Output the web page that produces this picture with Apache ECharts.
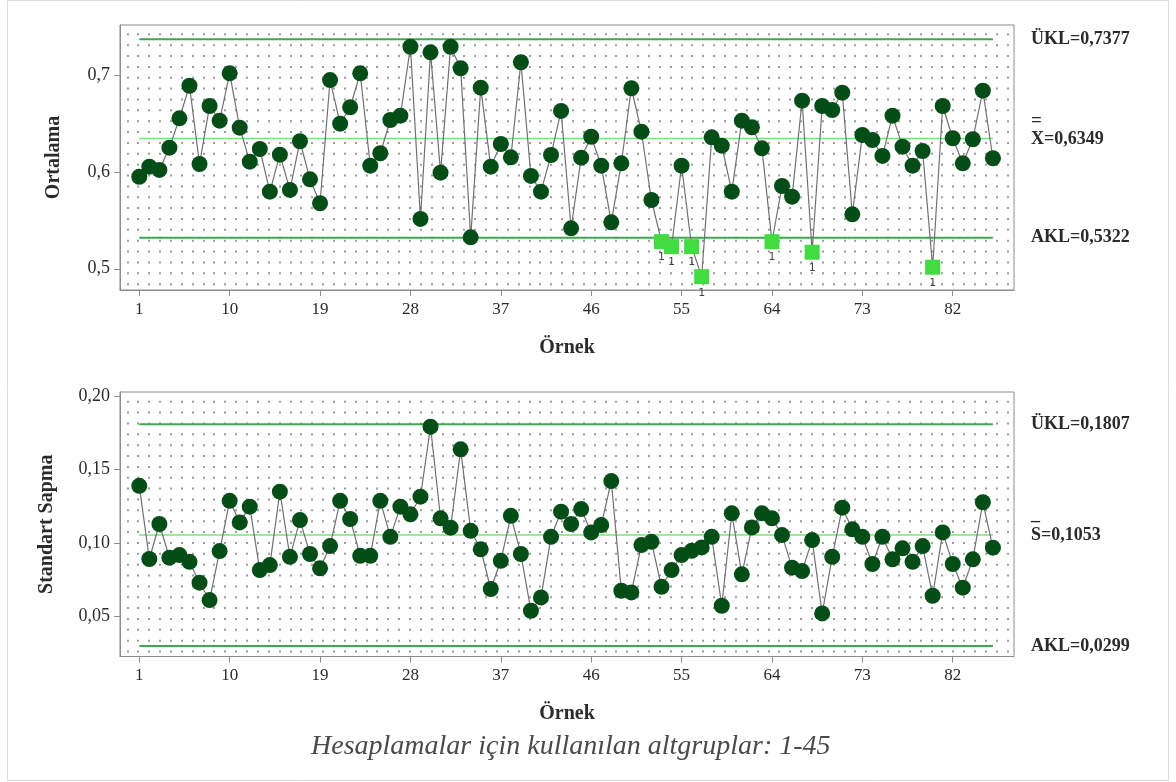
<!DOCTYPE html>
<html>
<head>
<meta charset="utf-8">
<title>Xbar-S kontrol grafiği</title>
<script src="https://cdn.jsdelivr.net/npm/echarts@6/dist/echarts.min.js"></script>
<style>
	html, body { margin: 0; padding: 0; background: #fff; }
	#chart { width: 1176px; height: 782px; }
</style>
</head>
<body>
<div id="chart"></div>
<script>
	// örnek ortalamaları (Xbar) ve standart sapmalar, örnek 1..86
	const xbarMeans = [
		0.5953, 0.6057, 0.6023, 0.6254, 0.6558, 0.6895, 0.6085, 0.6685, 0.6533, 0.7024,
		0.6461, 0.6109, 0.6240, 0.5798, 0.6181, 0.5816, 0.6320, 0.5926, 0.5678, 0.6954,
		0.6502, 0.6672, 0.7024, 0.6067, 0.6196, 0.6540, 0.6585, 0.7299, 0.5516, 0.7241,
		0.5995, 0.7299, 0.7076, 0.5325, 0.6875, 0.6057, 0.6292, 0.6154, 0.7138, 0.5961,
		0.5798, 0.6178, 0.6634, 0.5419, 0.6150, 0.6367, 0.6067, 0.5481, 0.6092, 0.6869,
		0.6419, 0.5712, 0.5281, 0.5229, 0.6067, 0.5229, 0.4918, 0.6361, 0.6274, 0.5798,
		0.6533, 0.6465, 0.6247, 0.5281, 0.5857, 0.5746, 0.6740, 0.5171, 0.6685, 0.6644,
		0.6823, 0.5564, 0.6385, 0.6333, 0.6168, 0.6585, 0.6264, 0.6067, 0.6219, 0.5016,
		0.6685, 0.6351, 0.6092, 0.6341, 0.6844, 0.6144
	]
	const stdDevs = [
		0.1388, 0.0890, 0.1128, 0.0899, 0.0917, 0.0871, 0.0729, 0.0611, 0.0944, 0.1286,
		0.1139, 0.1246, 0.0815, 0.0849, 0.1348, 0.0905, 0.1155, 0.0924, 0.0827, 0.0978,
		0.1286, 0.1162, 0.0912, 0.0912, 0.1286, 0.1041, 0.1246, 0.1194, 0.1314, 0.1790,
		0.1167, 0.1103, 0.1636, 0.1082, 0.0956, 0.0686, 0.0878, 0.1184, 0.0924, 0.0538,
		0.0629, 0.1041, 0.1212, 0.1128, 0.1230, 0.1071, 0.1121, 0.1420, 0.0674, 0.0663,
		0.0985, 0.1007, 0.0701, 0.0815, 0.0917, 0.0946, 0.0969, 0.1041, 0.0572, 0.1201,
		0.0786, 0.1105, 0.1201, 0.1167, 0.1053, 0.0831, 0.0808, 0.1019, 0.0520, 0.0905,
		0.1239, 0.1092, 0.1041, 0.0856, 0.1041, 0.0888, 0.0963, 0.0871, 0.0978, 0.0640,
		0.1071, 0.0856, 0.0695, 0.0888, 0.1276, 0.0967
	]
	// test 1 ile işaretlenen örnekler
	const xbarFlagged = [53, 54, 56, 57, 64, 68, 80]
	const sampleTicks = [1, 10, 19, 28, 37, 46, 55, 64, 73, 82]
	const xbarTicks = [0.5, 0.6, 0.7]
	const sTicks = [0.05, 0.10, 0.15, 0.20]
	const xbarLimits = [0.7377, 0.6349, 0.5322] // ÜKL, merkez, AKL
	const sLimits = [0.1807, 0.1053, 0.0299]

	const serif = 'Liberation Serif'
	const dark = '#2b2b2b'
	const n = xbarMeans.length

	function comma(v, d) {
		return v.toFixed(d).replace('.', ',')
	}

	function sampleAxis(gridIndex, nameGap) {
		return {
			type: 'value', gridIndex: gridIndex, min: -0.92, max: 88.1,
			name: 'Örnek', nameLocation: 'middle', nameGap: nameGap,
			nameTextStyle: { fontFamily: serif, fontWeight: 'bold', fontSize: 20, color: dark },
			axisLine: { show: true, onZero: false, lineStyle: { color: '#8c8c8c' } },
			axisTick: { show: true, inside: false, length: 6, customValues: sampleTicks, lineStyle: { color: '#8c8c8c' } },
			axisLabel: { customValues: sampleTicks, margin: 11, fontFamily: serif, fontSize: 17, color: dark },
			splitLine: { show: false }
		}
	}

	function valueAxis(gridIndex, name, nameGap, min, max, ticks, digits) {
		return {
			type: 'value', gridIndex: gridIndex, min: min, max: max,
			name: name, nameLocation: 'middle', nameGap: nameGap,
			nameTextStyle: { fontFamily: serif, fontWeight: 'bold', fontSize: 20, color: dark },
			axisLine: { show: true, onZero: false, lineStyle: { color: '#8c8c8c' } },
			axisTick: { show: true, inside: false, length: 6, customValues: ticks, lineStyle: { color: '#8c8c8c' } },
			axisLabel: { customValues: ticks, margin: 10, fontFamily: serif, fontSize: 18, color: dark,
				formatter: function (v) { return comma(v, digits) } },
			splitLine: { show: false }
		}
	}

	// noktalı arka plan ızgarası (ilk çizgi gizli, sütunlar 127.3 px'den başlar)
	function dotXAxis(gridIndex) {
		return {
			type: 'value', gridIndex: gridIndex, min: 0, max: 82, interval: 1,
			axisLine: { show: false, onZero: false }, axisTick: { show: false }, axisLabel: { show: false },
			splitLine: { show: true, showMinLine: false, lineStyle: { color: '#9c9c9c', width: 2, type: [2, 8.864] } }
		}
	}
	function dotYAxis(gridIndex) {
		return {
			type: 'value', gridIndex: gridIndex, min: 0, max: 1,
			axisLine: { show: false, onZero: false }, axisTick: { show: false }, axisLabel: { show: false },
			splitLine: { show: false }
		}
	}

	function limitLine(name, axisIndex, value, color, width, label) {
		return {
			name: name, type: 'line', xAxisIndex: axisIndex, yAxisIndex: axisIndex,
			data: [[1, value], [n, value]], symbol: 'none', silent: true, z: 1,
			lineStyle: { color: color, width: width },
			endLabel: label
		}
	}

	function plainLabel(text) {
		return { show: true, distance: 38, formatter: text,
			fontFamily: serif, fontWeight: 'bold', fontSize: 18, color: dark }
	}
	function barLabel(mark, markSize, text, barHeight, offsetY) {
		return { show: true, distance: 38, offset: [0, offsetY],
			formatter: '{bar|' + mark + '}\n{txt|' + text + '}',
			rich: {
				bar: { fontFamily: serif, fontWeight: 'bold', fontSize: markSize, lineHeight: barHeight, color: dark },
				txt: { fontFamily: serif, fontWeight: 'bold', fontSize: 18, lineHeight: 20, color: dark }
			}
		}
	}

	const xbarData = xbarMeans.map(function (v, i) {
		const item = { value: [i + 1, v] }
		if (xbarFlagged.indexOf(i + 1) >= 0) {
			item.symbol = 'rect'
			item.symbolSize = 15
			item.itemStyle = { color: '#40dc40' }
			item.label = { show: true, position: 'bottom', distance: 3, formatter: '1',
				fontFamily: 'DejaVu Sans', fontSize: 11, color: '#444' }
		}
		return item
	})
	const sData = stdDevs.map(function (v, i) { return [i + 1, v] })

	const chart = echarts.init(document.getElementById('chart'), null, { renderer: 'canvas' })
	chart.setOption({
		animation: false,
		backgroundColor: '#ffffff',
		title: {
			text: 'Hesaplamalar için kullanılan altgruplar: 1-45',
			left: 306, top: 728,
			textStyle: { fontFamily: serif, fontStyle: 'italic', fontWeight: 'normal', fontSize: 28, color: '#4a4a4a' }
		},
		graphic: [{
			type: 'rect', silent: true, z: -10,
			shape: { x: 7.5, y: 0.5, width: 1161, height: 780 },
			style: { fill: 'none', stroke: '#dcdcdc', lineWidth: 1 }
		}],
		grid: [
			{ left: 120, right: 162, top: 25, height: 265, show: true, borderColor: '#8c8c8c', borderWidth: 1, backgroundColor: 'transparent' },
			{ left: 120, right: 162, top: 392, height: 264.5, show: true, borderColor: '#8c8c8c', borderWidth: 1, backgroundColor: 'transparent' },
			{ left: 116.44, width: 890.86, top: 33.3, height: 252 },
			{ left: 116.44, width: 890.86, top: 400.7, height: 252 }
		],
		xAxis: [sampleAxis(0, 48), sampleAxis(1, 47), dotXAxis(2), dotXAxis(3)],
		yAxis: [
			valueAxis(0, 'Ortalama', 56, 0.478, 0.7524, xbarTicks, 1),
			valueAxis(1, 'Standart Sapma', 63, 0.0227, 0.2026, sTicks, 2),
			dotYAxis(2), dotYAxis(3)
		],
		series: [
			limitLine('ÜKL', 0, xbarLimits[0], '#3fa84f', 2, plainLabel('ÜKL=' + comma(xbarLimits[0], 4))),
			limitLine('X', 0, xbarLimits[1], '#74e874', 1.5, barLabel('=', 19, 'X=' + comma(xbarLimits[1], 4), 15, -7)),
			limitLine('AKL', 0, xbarLimits[2], '#3fa84f', 2, plainLabel('AKL=' + comma(xbarLimits[2], 4))),
			limitLine('ÜKL', 1, sLimits[0], '#3fa84f', 2, plainLabel('ÜKL=' + comma(sLimits[0], 4))),
			limitLine('S', 1, sLimits[1], '#74e874', 1.5, barLabel('–', 18, 'S=' + comma(sLimits[1], 4), 8, -4)),
			limitLine('AKL', 1, sLimits[2], '#3fa84f', 2, plainLabel('AKL=' + comma(sLimits[2], 4))),
			{
				name: 'Ortalama', type: 'line', xAxisIndex: 0, yAxisIndex: 0, z: 3,
				data: xbarData, symbol: 'circle', symbolSize: 16,
				itemStyle: { color: '#034d17' },
				lineStyle: { color: '#707070', width: 1.2 }
			},
			{
				name: 'Standart Sapma', type: 'line', xAxisIndex: 1, yAxisIndex: 1, z: 3,
				data: sData, symbol: 'circle', symbolSize: 16,
				itemStyle: { color: '#034d17' },
				lineStyle: { color: '#707070', width: 1.2 }
			}
		]
	})
</script>
</body>
</html>
